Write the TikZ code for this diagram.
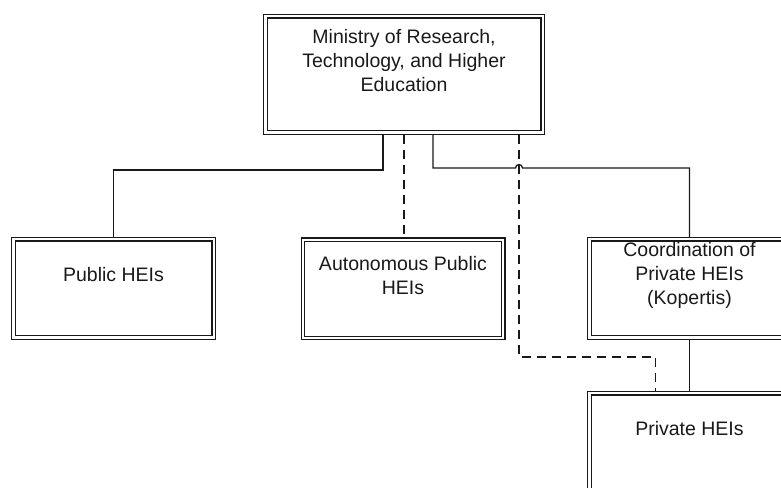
\documentclass[tikz,border=0pt]{standalone}
\usepackage{fontspec}
\setmainfont{Liberation Sans}
\usetikzlibrary{positioning}
\tikzstyle{unit} = [rectangle, minimum width=200.2pt, minimum height=98.2pt, draw=black!90, line width=1.3pt, double, double distance=2.2pt, outer sep=2.4pt]
\tikzstyle{ministrybox} = [unit, minimum width=277.2pt, minimum height=116.2pt]
\tikzstyle{caption} = [align=center, yshift=13.5pt, text=black!90, font=\fontsize{19.5}{24}\selectfont]
\tikzstyle{link} = [draw=black!90, line width=1.3pt]
\tikzstyle{dashlink} = [link, dash pattern=on 9pt off 6pt]

\begin{document}
\begin{tikzpicture}[x=1pt, y=1pt]
\useasboundingbox (0,0) rectangle (781,487);
\node (ministry) [ministrybox, label={[caption]center:{Ministry of Research,\\Technology, and Higher\\Education}}] at (404,412.5) {};
\node (public) [unit, label={[caption]center:{Public HEIs}}] at (113.5,198.5) {};
\node (auto) [unit, label={[caption]center:{Autonomous Public\\HEIs}}] at (403,198) {};
\node (coord) [unit, label={[caption]center:{Coordination of\\Private HEIs\\(Kopertis)}}] at (689.5,198.5) {};
\node (private) [unit, below=51pt of coord, label={[caption]center:{Private HEIs}}] {};

\coordinate (hop) at (519,319);

\draw[link] ([xshift=-21pt]ministry.south) -- ++(0,-35) -| (public.north);
\draw[dashlink] (ministry.south) -- (ministry.south |- auto.north);
\draw[link] ([xshift=29pt]ministry.south) -- ++(0,-33) -- ([xshift=-3.5pt]hop) arc (180:0:3.5pt) -| (coord.north);
\draw[dashlink] ([xshift=115pt]ministry.south) -- ++(0,-222) -| ([xshift=-34pt]private.north);
\draw[link] (coord.south) -- (private.north);
\end{tikzpicture}
\end{document}
